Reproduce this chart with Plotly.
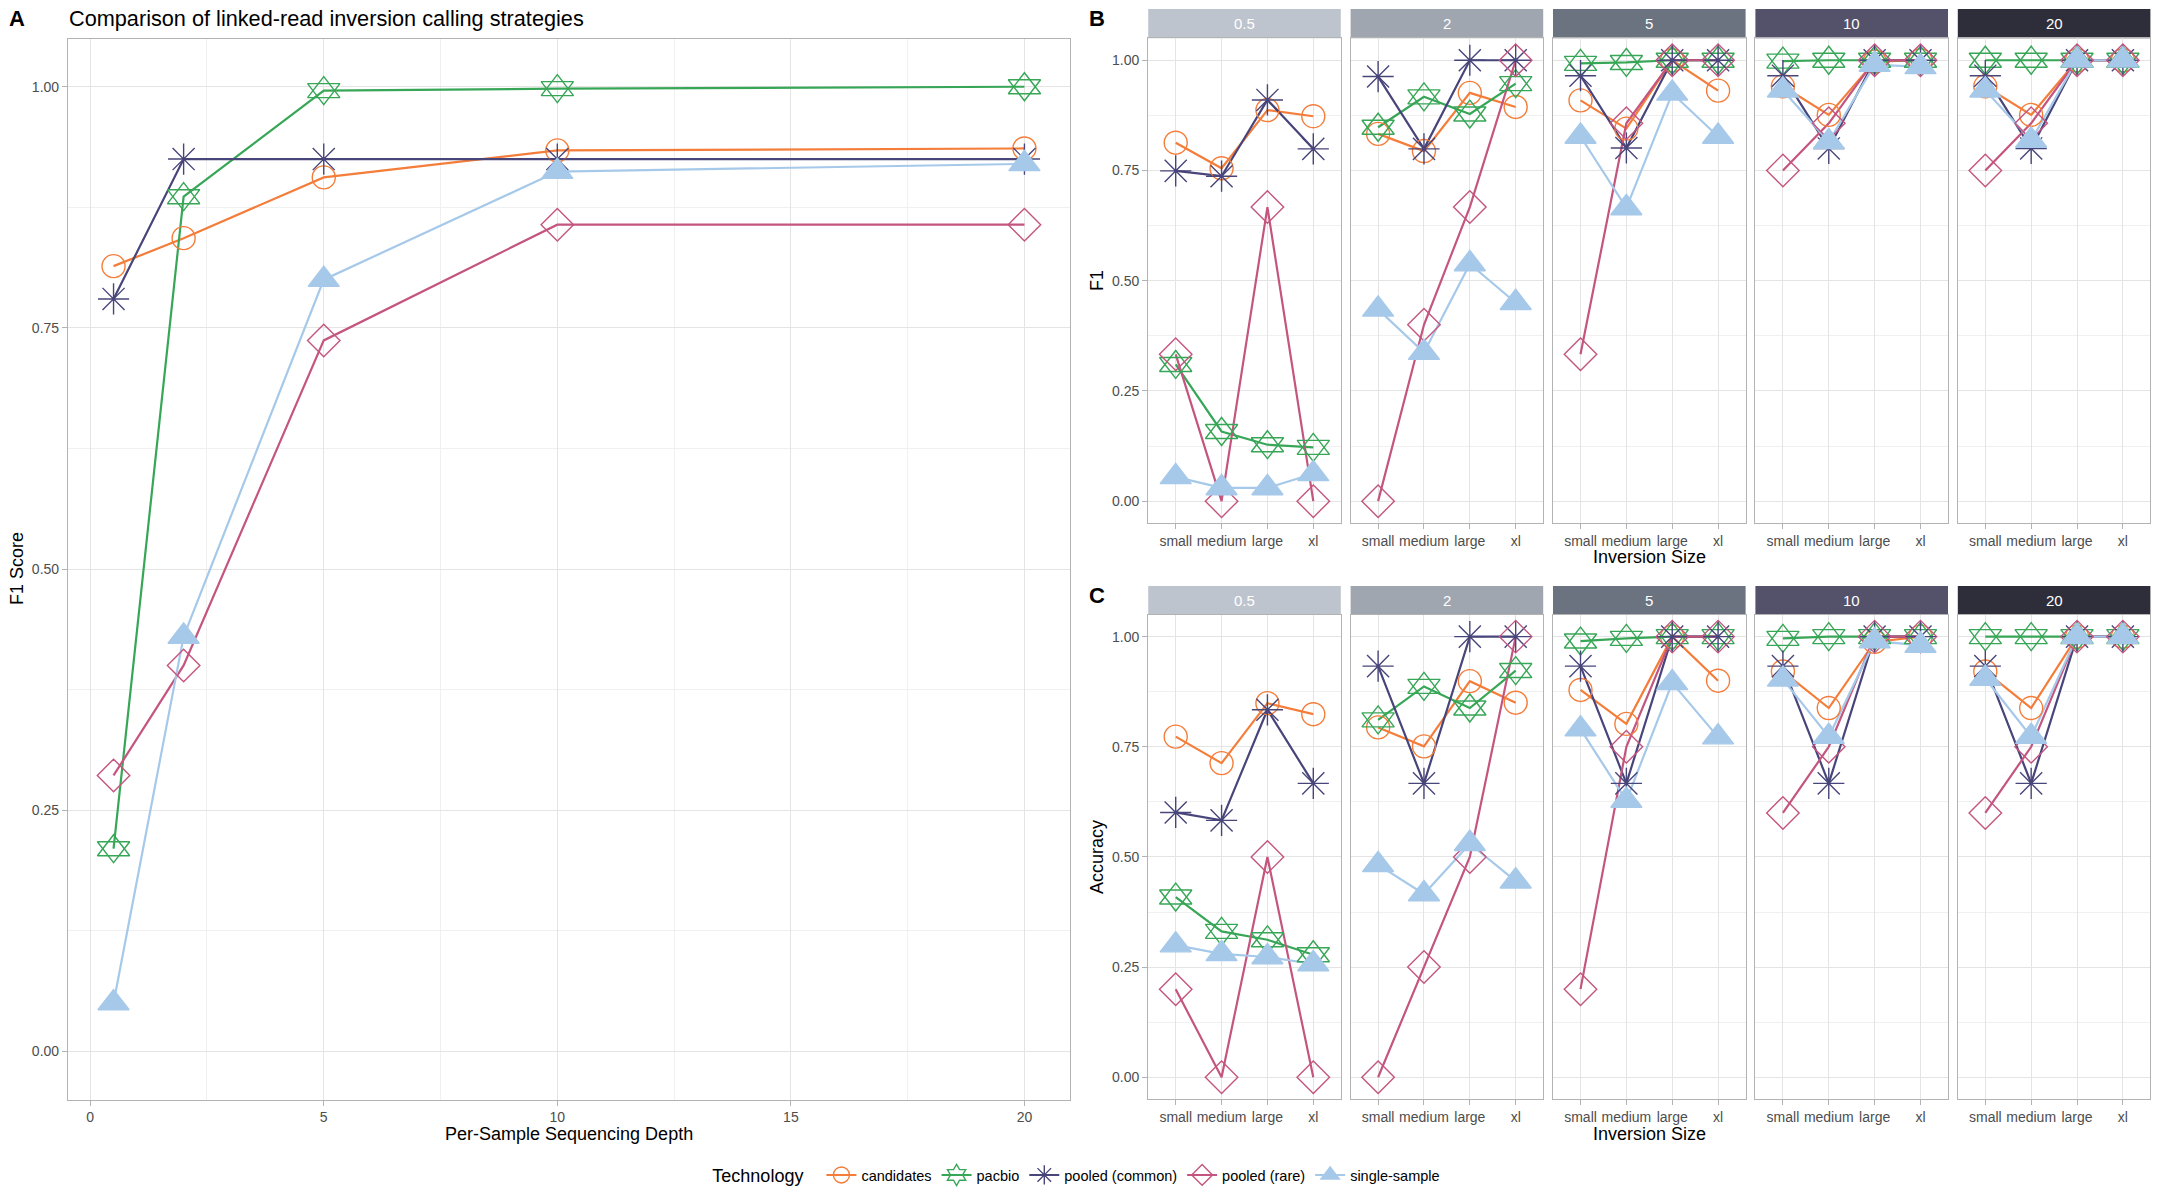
import plotly.graph_objects as go

W, H = 2160, 1200

technologies = ["candidates", "pacbio", "pooled (common)", "pooled (rare)", "single-sample"]
tech_colors = ["#F47D3A", "#37A657", "#48457A", "#C4557F", "#A6C9EA"]
# pacbio is drawn as an up + down triangle pair (star of David)
tech_symbols = ["circle-open", ["triangle-up-open", "triangle-down-open"], "asterisk-open",
                "diamond-open", "triangle-up"]
legend_symbols = ["circle-open", "hexagram-open", "asterisk-open", "diamond-open", "triangle-up"]
tech_sizes = [23, 28, 26, 25, 27]

depths = [0.5, 2, 5, 10, 20]
depth_labels = ["0.5", "2", "5", "10", "20"]
strip_colors = ["#BEC4CD", "#A0A6B0", "#6B7280", "#53526A", "#2E2D3A"]
inv_sizes = ["small", "medium", "large", "xl"]

# panel A: F1 score by per-sample depth
a_candidates = [0.814, 0.843, 0.906, 0.934, 0.936]
a_pacbio = [0.21, 0.886, 0.996, 0.998, 1.0]
a_pooled_common = [0.780, 0.925, 0.925, 0.925, 0.925]
a_pooled_rare = [0.286, 0.40, 0.737, 0.857, 0.857]
a_single = [0.05, 0.43, 0.80, 0.912, 0.92]

# panel B: F1 by inversion size, one row per depth (0.5, 2, 5, 10, 20)
f1_candidates = [[0.813, 0.755, 0.887, 0.873], [0.833, 0.794, 0.926, 0.894],
                 [0.909, 0.845, 1.0, 0.931], [0.941, 0.876, 0.997, 1.0], [0.941, 0.876, 1.0, 1.0]]
f1_pacbio = [[0.31, 0.158, 0.128, 0.122], [0.848, 0.917, 0.878, 0.947],
             [0.993, 0.995, 1.0, 1.0], [0.998, 1.0, 1.0, 1.0], [1.0, 1.0, 1.0, 1.0]]
f1_pooled_common = [[0.749, 0.737, 0.910, 0.799], [0.963, 0.799, 1.0, 1.0],
                    [0.965, 0.801, 1.0, 1.0], [0.965, 0.80, 1.0, 1.0], [0.965, 0.80, 1.0, 1.0]]
f1_pooled_rare = [[0.333, 0.0, 0.667, 0.0], [0.0, 0.40, 0.667, 1.0],
                  [0.333, 0.857, 1.0, 1.0], [0.75, 0.857, 1.0, 1.0], [0.75, 0.857, 1.0, 1.0]]
f1_single = [[0.055, 0.03, 0.03, 0.062], [0.435, 0.337, 0.538, 0.45],
             [0.827, 0.665, 0.925, 0.827], [0.932, 0.815, 0.99, 0.985], [0.932, 0.818, 1.0, 1.0]]

# panel C: accuracy by inversion size
acc_candidates = [[0.773, 0.713, 0.849, 0.824], [0.794, 0.751, 0.899, 0.850],
                  [0.879, 0.802, 1.0, 0.9], [0.921, 0.838, 0.988, 1.0], [0.921, 0.838, 1.0, 1.0]]
acc_pacbio = [[0.409, 0.331, 0.312, 0.278], [0.811, 0.887, 0.838, 0.923],
              [0.99, 0.996, 1.0, 1.0], [0.996, 1.0, 1.0, 1.0], [1.0, 1.0, 1.0, 1.0]]
acc_pooled_common = [[0.601, 0.583, 0.834, 0.667], [0.933, 0.667, 1.0, 1.0],
                     [0.933, 0.667, 1.0, 1.0], [0.933, 0.667, 1.0, 1.0], [0.933, 0.667, 1.0, 1.0]]
acc_pooled_rare = [[0.2, 0.0, 0.5, 0.0], [0.0, 0.25, 0.5, 1.0],
                   [0.2, 0.75, 1.0, 1.0], [0.6, 0.75, 1.0, 1.0], [0.6, 0.75, 1.0, 1.0]]
acc_single = [[0.30, 0.28, 0.273, 0.257], [0.482, 0.416, 0.53, 0.445],
              [0.79, 0.628, 0.895, 0.772], [0.903, 0.773, 0.99, 0.98], [0.905, 0.773, 1.0, 1.0]]

a_values = [a_candidates, a_pacbio, a_pooled_common, a_pooled_rare, a_single]
f1_values = [f1_candidates, f1_pacbio, f1_pooled_common, f1_pooled_rare, f1_single]
acc_values = [acc_candidates, acc_pacbio, acc_pooled_common, acc_pooled_rare, acc_single]

FONT = "Liberation Sans, Arial, sans-serif"
GRID = "#E4E4E4"
MINOR = "#F0F0F0"
BORDER = "#B3B3B3"
TICKTXT = "#4D4D4D"


def px_x(p):
    return p / W


def px_y(p):
    return 1 - p / H


fig = go.Figure()


def add_series(xs, ys, i, xa, ya):
    # lines go under all points, like geom_line + geom_point
    fig.add_trace(go.Scatter(x=xs, y=ys, mode="lines", xaxis=xa, yaxis=ya,
                             line=dict(color=tech_colors[i], width=2.2),
                             showlegend=False, hoverinfo="skip"))


def add_points(xs, ys, i, xa, ya):
    syms = tech_symbols[i] if isinstance(tech_symbols[i], list) else [tech_symbols[i]]
    for sym in syms:
        fig.add_trace(go.Scatter(x=xs, y=ys, mode="markers", xaxis=xa, yaxis=ya,
                                 marker=dict(symbol=sym, size=tech_sizes[i],
                                             color=tech_colors[i],
                                             line=dict(color=tech_colors[i], width=1.4)),
                                 showlegend=False, name=technologies[i]))


# panel A
for i in range(len(technologies)):
    add_series(depths, a_values[i], i, "x", "y")
for i in range(len(technologies)):
    add_points(depths, a_values[i], i, "x", "y")

# panels B and C
for d in range(len(depths)):
    xb, yb = "x%d" % (d + 2), "y%d" % (d + 2)
    xc, yc = "x%d" % (d + 7), "y%d" % (d + 7)
    for i in range(len(technologies)):
        add_series(inv_sizes, f1_values[i][d], i, xb, yb)
        add_series(inv_sizes, acc_values[i][d], i, xc, yc)
    for i in range(len(technologies)):
        add_points(inv_sizes, f1_values[i][d], i, xb, yb)
        add_points(inv_sizes, acc_values[i][d], i, xc, yc)

# legend-only entries
for i, tech in enumerate(technologies):
    fig.add_trace(go.Scatter(x=[None], y=[None], mode="lines+markers", name=tech,
                             xaxis="x", yaxis="y",
                             line=dict(color=tech_colors[i], width=2),
                             marker=dict(symbol=legend_symbols[i], size=tech_sizes[i],
                                         color=tech_colors[i],
                                         line=dict(color=tech_colors[i], width=1.4))))

tickfont = dict(family=FONT, size=14, color=TICKTXT)
y_ticks = [0, 0.25, 0.5, 0.75, 1.0]
y_text = ["0.00", "0.25", "0.50", "0.75", "1.00"]


def y_axis(domain, show_labels):
    return dict(domain=domain, range=[-0.05, 1.05], tickvals=y_ticks, ticktext=y_text,
                showticklabels=show_labels, ticks="outside" if show_labels else "",
                ticklen=5, tickcolor=BORDER, tickfont=tickfont,
                showgrid=True, gridcolor=GRID, gridwidth=1.1,
                minor=dict(tickvals=[0.125, 0.375, 0.625, 0.875], showgrid=True,
                           gridcolor=MINOR, gridwidth=0.7, ticks=""),
                zeroline=False, showline=True, mirror=True, linecolor=BORDER, linewidth=1.2)


layout = dict(
    width=W, height=H, margin=dict(l=0, r=0, t=0, b=0),
    paper_bgcolor="white", plot_bgcolor="white",
    font=dict(family=FONT, color="black"),
    xaxis=dict(domain=[px_x(68), px_x(1070)], range=[-0.475, 20.975],
               tickvals=[0, 5, 10, 15, 20], ticks="outside", ticklen=5, tickcolor=BORDER,
               tickfont=tickfont, showgrid=True, gridcolor=GRID, gridwidth=1.1,
               minor=dict(tickvals=[2.5, 7.5, 12.5, 17.5], showgrid=True,
                          gridcolor=MINOR, gridwidth=0.7, ticks=""),
               zeroline=False, showline=True, mirror=True, linecolor=BORDER, linewidth=1.2,
               anchor="y"),
    yaxis=y_axis([px_y(1099.5), px_y(38.5)], True),
    legend=dict(orientation="h", x=0.499, xanchor="center", y=px_y(1176), yanchor="middle",
                title=dict(text="Technology  ", font=dict(size=18, family=FONT)),
                font=dict(size=14.5, family=FONT), itemwidth=30, tracegroupgap=0),
)
layout["yaxis"]["anchor"] = "x"

shapes = []
annotations = []
left0, width, step = 1148.2, 192.6, 202.4
for d in range(len(depths)):
    x0 = left0 + d * step
    x1 = x0 + width
    for k, (top, bot, s0, s1) in enumerate([(38.2, 523.2, 8.9, 38.2), (614.6, 1099.3, 586.0, 614.6)]):
        n = d + 2 + 5 * k
        layout["xaxis%d" % n] = dict(domain=[px_x(x0), px_x(x1)], type="category",
                                     categoryorder="array", categoryarray=inv_sizes,
                                     range=[-0.6, 3.6], ticks="outside", ticklen=5,
                                     tickangle=0, tickcolor=BORDER, tickfont=tickfont,
                                     showgrid=True, gridcolor=GRID, gridwidth=1.1,
                                     zeroline=False, showline=True, mirror=True,
                                     linecolor=BORDER, linewidth=1.2, anchor="y%d" % n)
        ya = y_axis([px_y(bot), px_y(top)], d == 0)
        ya["anchor"] = "x%d" % n
        layout["yaxis%d" % n] = ya
        shapes.append(dict(type="rect", xref="paper", yref="paper",
                           x0=px_x(x0), x1=px_x(x1), y0=px_y(s1), y1=px_y(s0),
                           fillcolor=strip_colors[d], line=dict(width=0), layer="below"))
        annotations.append(dict(text=depth_labels[d], xref="paper", yref="paper",
                                x=px_x((x0 + x1) / 2), y=px_y((s0 + s1) / 2),
                                showarrow=False, xanchor="center", yanchor="middle",
                                font=dict(size=15, color="white", family=FONT)))


def label(text, x, y, size=18, angle=0, anchor="center", bold=False):
    annotations.append(dict(text="<b>%s</b>" % text if bold else text, xref="paper", yref="paper",
                            x=px_x(x), y=px_y(y), showarrow=False, textangle=angle,
                            xanchor=anchor, yanchor="middle",
                            font=dict(size=size, color="black", family=FONT)))


label("A", 17, 18, size=22, bold=True)
label("Comparison of linked-read inversion calling strategies", 67, 18, size=21.7, anchor="left")
label("F1 Score", 17, 569, angle=-90)
label("Per-Sample Sequencing Depth", 569, 1134)
label("B", 1097, 18, size=22, bold=True)
label("F1", 1097, 281, angle=-90)
label("Inversion Size", 1649, 557)
label("C", 1097, 595, size=22, bold=True)
label("Accuracy", 1097, 857, angle=-90)
label("Inversion Size", 1649, 1134)

layout["shapes"] = shapes
layout["annotations"] = annotations
fig.update_layout(**layout)

# drop the browser's default body margin so the figure sits at the window corner
fig.write_html("out.html", config={"displayModeBar": False},
               post_script="document.body.style.margin='0px';")
